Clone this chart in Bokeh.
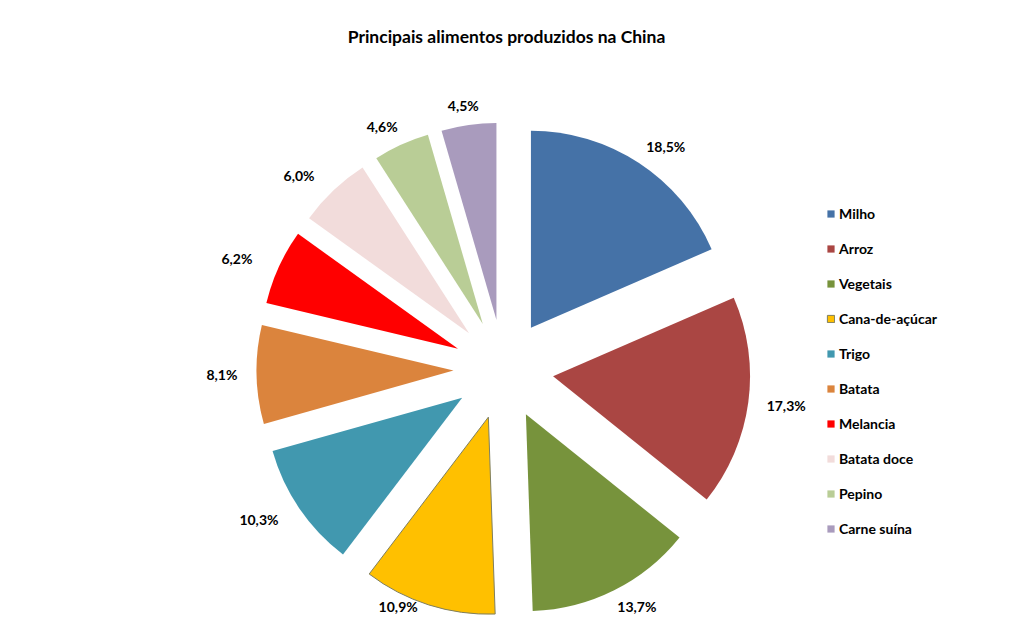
import math
from bokeh.plotting import figure
from bokeh.models import ColumnDataSource, Range1d, Legend, LegendItem, Label
from bokeh.core.properties import value as pv
from bokeh.embed import file_html
from bokeh.resources import INLINE

categories = ["Milho", "Arroz", "Vegetais", "Cana-de-açúcar", "Trigo", "Batata",
              "Melancia", "Batata doce", "Pepino", "Carne suína"]
values = [18.5, 17.3, 13.7, 10.9, 10.3, 8.1, 6.2, 6.0, 4.6, 4.5]
colors = ["#4572A7", "#AA4643", "#77933C", "#FFC000", "#4198AF", "#DB843D",
          "#FF0000", "#F2DCDB", "#B9CD96", "#A99BBD"]
title_text = "Principais alimentos produzidos na China"

W, H = 997, 616
FONT = "Lato"
TOP = 632  # data y of frame top; data y = 632 - pixel row

CX, CY = 503, TOP - 369
R = 197
EXPLODE = 50
LABEL_R = 267
YMIN_LABEL = TOP - 606  # keep labels inside the frame

total = sum(values)
xs, ys, starts, ends, lx, ly, labels, line_alpha = [], [], [], [], [], [], [], []
cum = 0.0
for cat, v in zip(categories, values):
    f0 = cum / total
    f1 = (cum + v) / total
    cum += v
    mid = (f0 + f1) / 2 * 2 * math.pi  # clockwise from top
    ux, uy = math.sin(mid), math.cos(mid)
    xs.append(CX + EXPLODE * ux)
    ys.append(CY + EXPLODE * uy)
    starts.append(math.pi / 2 - 2 * math.pi * f0)
    ends.append(math.pi / 2 - 2 * math.pi * f1)
    txt = f"{v:.1f}%".replace(".", ",")
    labels.append(txt)
    extra = 14 + 32 * abs(ux * uy)
    tx = CX + (LABEL_R + extra) * ux
    ty = CY + LABEL_R * uy
    if ty < YMIN_LABEL:
        over = YMIN_LABEL - ty
        ty = YMIN_LABEL
        tx += over * (1 if ux > 0 else -1)
    lx.append(tx)
    ly.append(ty)
    line_alpha.append(1.0 if cat == "Cana-de-açúcar" else 0.0)

src = ColumnDataSource(dict(x=xs, y=ys, start=starts, end=ends, color=colors,
                            cat=categories, la=line_alpha))
lsrc = ColumnDataSource(dict(x=lx, y=ly, text=labels))

p = figure(width=W, height=H, output_backend="svg", toolbar_location=None,
           x_range=Range1d(0, W), y_range=Range1d(TOP - H, TOP),
           x_axis_location=None, y_axis_location=None, min_border=0,
           outline_line_color=None, background_fill_color="white",
           border_fill_color="white")
p.grid.visible = False

wr = p.wedge(x="x", y="y", radius=R, start_angle="start", end_angle="end",
             direction="clock", fill_color="color", line_color="#7F7F5F",
             line_alpha="la", line_width=1, source=src)

p.text(x="x", y="y", text="text", source=lsrc, text_align="center",
       text_baseline="middle", text_font_size="14px", text_font_style="bold",
       text_font=pv(FONT), text_color="black")

p.add_layout(Label(x=506, y=TOP - 36, text=title_text, text_align="center",
                   text_baseline="middle", text_font=FONT, text_font_size="17.5px",
                   text_font_style="bold", text_color="black"))

items = [LegendItem(label=c, renderers=[wr], index=i) for i, c in enumerate(categories)]
legend = Legend(items=items, location=(826, 78), orientation="vertical",
                glyph_width=9, glyph_height=9, label_standoff=4,
                label_height=20, spacing=15, padding=0, margin=0,
                border_line_color=None, background_fill_alpha=0,
                label_text_font=FONT, label_text_font_size="14px",
                label_text_font_style="bold", label_text_color="black")
p.add_layout(legend, "center")

open("out.html", "w").write(file_html(p, INLINE))
